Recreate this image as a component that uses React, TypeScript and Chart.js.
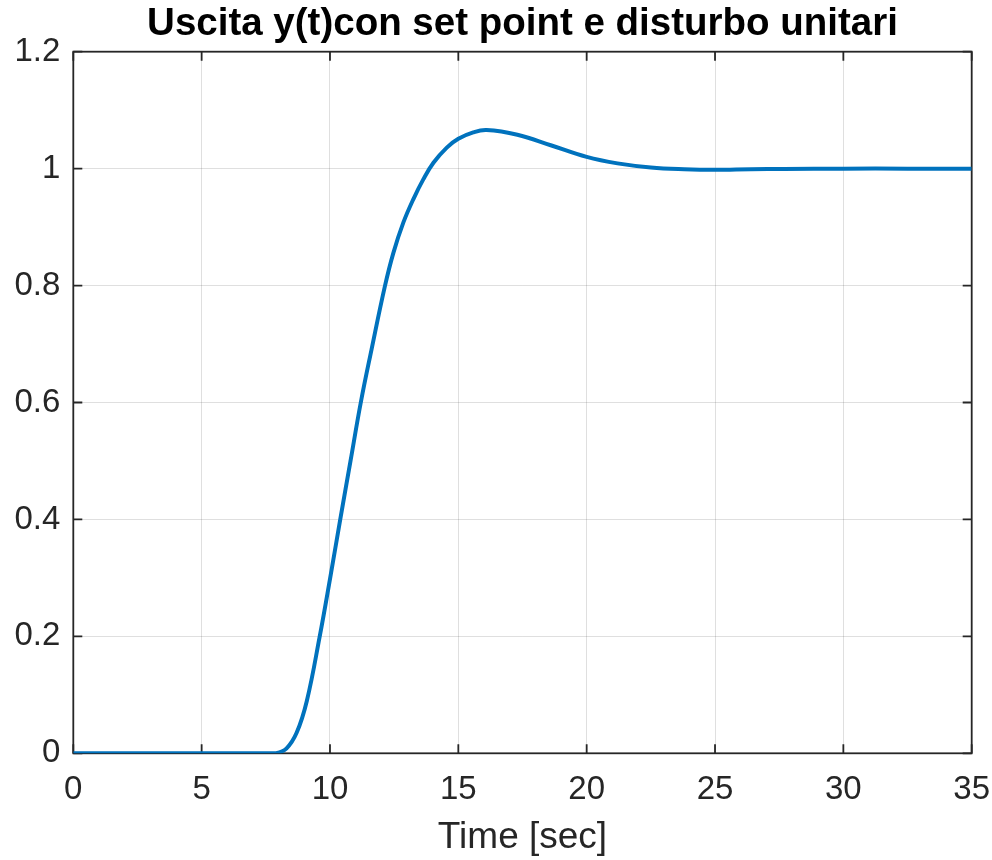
import React, { useEffect, useRef } from "react";
import { Chart, registerables } from "chart.js";

Chart.register(...registerables);

const TITLE = "Uscita y(t)con set point e disturbo unitari";
const X_LABEL = "Time [sec]";

// time [sec]
const TIME = [
  0, 7.5, 7.9, 8.3, 8.7, 9.1, 9.6, 10.0, 10.4, 10.8, 11.2, 11.62, 12.14, 12.47,
  12.86, 13.25, 13.64, 14.03, 14.55, 15.0, 15.58, 16.1, 17.3, 18.6, 20, 21.2,
  22.5, 23.8, 25, 26.4, 27.7, 30, 32.5, 35,
];
// output y(t)
const OUTPUT = [
  0, 0, 0, 0.008, 0.035, 0.09, 0.2, 0.298, 0.4, 0.5, 0.6, 0.691, 0.799, 0.856,
  0.908, 0.948, 0.982, 1.01, 1.036, 1.051, 1.062, 1.066, 1.058, 1.04, 1.02, 1.009,
  1.002, 0.999, 0.998, 0.999, 0.9995, 1.0, 1.0, 1.0,
];

const X_MIN = 0;
const X_MAX = 35;
const X_STEP = 5;
const Y_MIN = 0;
const Y_MAX = 1.2;
const Y_STEP = 0.2;

const FONT = "'Liberation Sans', Arial, Helvetica, sans-serif";
const AXIS_COLOR = "#262626";

export default function App() {
  const ref = useRef<HTMLCanvasElement>(null);

  useEffect(() => {
    document.body.style.margin = "0";
    const canvas = ref.current;
    if (!canvas) return;

    const framePlugin = {
      id: "matlabFrame",
      beforeDatasetsDraw(chart: any) {
        const { ctx, chartArea: a, scales } = chart;
        const xs = scales.x;
        const ys = scales.y;
        ctx.save();
        ctx.strokeStyle = AXIS_COLOR;
        ctx.lineWidth = 1.8;
        ctx.strokeRect(a.left, a.top, a.right - a.left, a.bottom - a.top);
        const L = 9;
        ctx.beginPath();
        xs.ticks.forEach((t: any) => {
          const px = xs.getPixelForValue(t.value);
          ctx.moveTo(px, a.bottom);
          ctx.lineTo(px, a.bottom - L);
          ctx.moveTo(px, a.top);
          ctx.lineTo(px, a.top + L);
        });
        ys.ticks.forEach((t: any) => {
          const py = ys.getPixelForValue(t.value);
          ctx.moveTo(a.left, py);
          ctx.lineTo(a.left + L, py);
          ctx.moveTo(a.right, py);
          ctx.lineTo(a.right - L, py);
        });
        ctx.stroke();
        ctx.restore();
      },
    };

    const chart = new Chart(canvas, {
      type: "line",
      data: {
        datasets: [
          {
            data: TIME.map((t, i) => ({ x: t, y: OUTPUT[i] })),
            borderColor: "#0072BD",
            borderWidth: 4,
            pointRadius: 0,
            tension: 0.4,
            fill: false,
          },
        ],
      },
      options: {
        animation: false,
        responsive: false,
        maintainAspectRatio: false,
        layout: { padding: { left: 0, right: 20.3, top: 0, bottom: 0 } },
        plugins: {
          legend: { display: false },
          tooltip: { enabled: false },
          title: {
            display: true,
            text: TITLE,
            fullSize: false,
            color: "#000000",
            font: { family: FONT, size: 38.5, weight: "bold", lineHeight: 1.2 },
            padding: { top: 1.5, bottom: 4.0 },
          },
        },
        scales: {
          x: {
            type: "linear",
            min: X_MIN,
            max: X_MAX,
            afterFit(scale: any) {
              scale.height = 106.7;
              scale.paddingLeft = 0;
              scale.paddingRight = 0;
            },
            ticks: {
              stepSize: X_STEP,
              color: AXIS_COLOR,
              font: { family: FONT, size: 33, lineHeight: 1.2 },
              padding: 17,
              maxRotation: 0,
            },
            grid: {
              color: "rgba(38,38,38,0.15)",
              lineWidth: 1,
              drawTicks: false,
            },
            border: { display: false },
            title: {
              display: true,
              text: X_LABEL,
              color: AXIS_COLOR,
              font: { family: FONT, size: 37, lineHeight: 1.2 },
              padding: { top: 0, bottom: 0.5 },
            },
          },
          y: {
            type: "linear",
            min: Y_MIN,
            max: Y_MAX,
            afterFit(scale: any) {
              scale.width = 73.3;
              scale.paddingTop = 0;
              scale.paddingBottom = 0;
            },
            ticks: {
              stepSize: Y_STEP,
              color: AXIS_COLOR,
              font: { family: FONT, size: 33, lineHeight: 1.2 },
              padding: 13,
              callback: (v: any) => String(Number(Number(v).toFixed(1))),
            },
            grid: {
              color: "rgba(38,38,38,0.15)",
              lineWidth: 1,
              drawTicks: false,
            },
            border: { display: false },
          },
        },
      },
      plugins: [framePlugin],
    } as any);

    return () => chart.destroy();
  }, []);

  return (
    <div style={{ position: "absolute", left: 0, top: 0, width: 992, height: 860 }}>
      <canvas ref={ref} width={992} height={860} style={{ display: "block" }} />
    </div>
  );
}
